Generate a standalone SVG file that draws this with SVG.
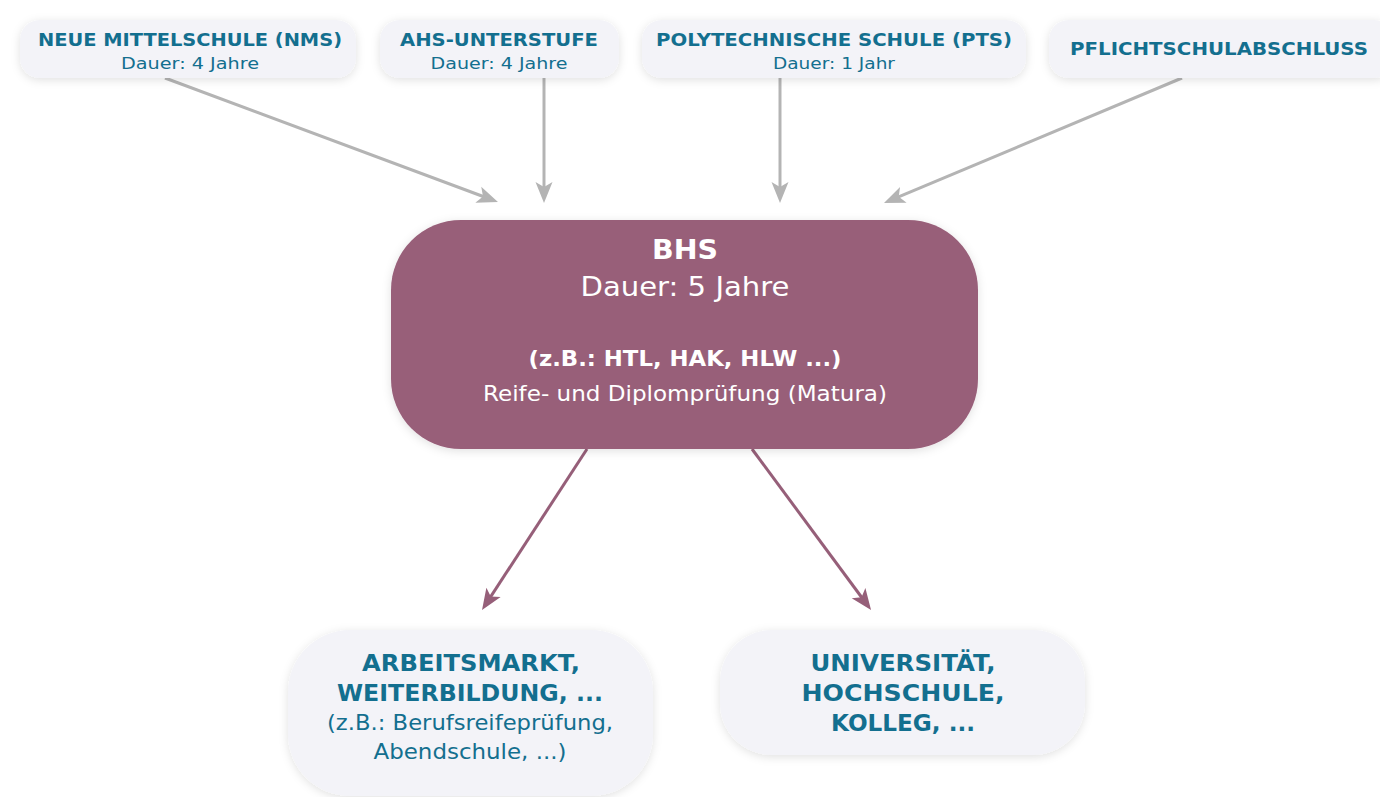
<svg xmlns="http://www.w3.org/2000/svg" width="1380" height="797" viewBox="0 0 1380 797">
<defs>
<style>
.box{fill:#f3f3f8;filter:url(#sh)}
.t{font-family:"DejaVu Sans","Open Sans",sans-serif;fill:#136f8f;text-anchor:middle}
.b{font-weight:bold}
.w{font-family:"DejaVu Sans","Open Sans",sans-serif;fill:#ffffff;text-anchor:middle}
.g{stroke:#b4b4b4;stroke-width:3;fill:none}
.p{stroke:#965f79;stroke-width:3;fill:none}
</style>
<filter id="sh" x="-20%" y="-30%" width="140%" height="160%">
<feDropShadow dx="0" dy="2" stdDeviation="5" flood-color="#000" flood-opacity="0.12"/>
</filter>
<marker id="ag" viewBox="-12 -10 24 20" refX="0" refY="0" markerWidth="24" markerHeight="20" markerUnits="userSpaceOnUse" orient="auto" overflow="visible">
<path d="M10,0 L-11,-8.5 L-6,0 L-11,8.5 Z" fill="#b4b4b4"/>
</marker>
<marker id="ap" viewBox="-12 -10 24 20" refX="0" refY="0" markerWidth="24" markerHeight="20" markerUnits="userSpaceOnUse" orient="auto" overflow="visible">
<path d="M10,0 L-11,-8.5 L-6,0 L-11,8.5 Z" fill="#965f79"/>
</marker>
</defs>
<rect width="1380" height="797" fill="#ffffff"/>
<g id="connectors">
<line class="g" x1="165" y1="78" x2="488.6" y2="198.5" marker-end="url(#ag)"/>
<line class="g" x1="544" y1="78" x2="544" y2="193" marker-end="url(#ag)"/>
<line class="g" x1="780" y1="78" x2="780" y2="193" marker-end="url(#ag)"/>
<line class="g" x1="1182" y1="78" x2="893.2" y2="199.1" marker-end="url(#ag)"/>
<line class="p" x1="587" y1="449" x2="487.5" y2="601.6" marker-end="url(#ap)"/>
<line class="p" x1="752" y1="449" x2="865.1" y2="602" marker-end="url(#ap)"/>
</g>
<g id="nms">
<rect class="box" x="20" y="20" width="336" height="58" rx="20"/>
<text class="t b" x="190" y="46" font-size="17.5" textLength="304" lengthAdjust="spacingAndGlyphs">NEUE MITTELSCHULE (NMS)</text>
<text class="t" x="190" y="69" font-size="15.5" textLength="138" lengthAdjust="spacingAndGlyphs">Dauer: 4 Jahre</text>
</g>
<g id="ahs">
<rect class="box" x="380" y="20" width="239" height="58" rx="20"/>
<text class="t b" x="499" y="46" font-size="17.5" textLength="198" lengthAdjust="spacingAndGlyphs">AHS-UNTERSTUFE</text>
<text class="t" x="499" y="69" font-size="15.5" textLength="137" lengthAdjust="spacingAndGlyphs">Dauer: 4 Jahre</text>
</g>
<g id="pts">
<rect class="box" x="642" y="20" width="384" height="58" rx="20"/>
<text class="t b" x="834" y="46" font-size="17.5" textLength="356" lengthAdjust="spacingAndGlyphs">POLYTECHNISCHE SCHULE (PTS)</text>
<text class="t" x="834" y="69" font-size="15.5" textLength="122" lengthAdjust="spacingAndGlyphs">Dauer: 1 Jahr</text>
</g>
<g id="pflicht">
<rect class="box" x="1049" y="20" width="345" height="58" rx="20"/>
<text class="t b" x="1219" y="55" font-size="17.5" textLength="298" lengthAdjust="spacingAndGlyphs">PFLICHTSCHULABSCHLUSS</text>
</g>
<g id="bhs">
<rect x="391" y="220" width="587" height="229" rx="70" fill="#985f79" filter="url(#sh)"/>
<text class="w b" x="685" y="259" font-size="27" textLength="66" lengthAdjust="spacingAndGlyphs">BHS</text>
<text class="w" x="685" y="296" font-size="27" textLength="209" lengthAdjust="spacingAndGlyphs">Dauer: 5 Jahre</text>
<text class="w b" x="685" y="366" font-size="21" textLength="313" lengthAdjust="spacingAndGlyphs">(z.B.: HTL, HAK, HLW ...)</text>
<text class="w" x="685" y="401" font-size="21" textLength="404" lengthAdjust="spacingAndGlyphs">Reife- und Diplomprüfung (Matura)</text>
</g>
<g id="arbeit">
<rect class="box" x="288" y="630" width="365" height="166" rx="62"/>
<text class="t b" x="471" y="671" font-size="23" textLength="218" lengthAdjust="spacingAndGlyphs">ARBEITSMARKT,</text>
<text class="t b" x="470" y="701" font-size="23" textLength="266" lengthAdjust="spacingAndGlyphs">WEITERBILDUNG, ...</text>
<text class="t" x="470" y="730" font-size="21" textLength="286" lengthAdjust="spacingAndGlyphs">(z.B.: Berufsreifeprüfung,</text>
<text class="t" x="470" y="759" font-size="21" textLength="193" lengthAdjust="spacingAndGlyphs">Abendschule, ...)</text>
</g>
<g id="uni">
<rect class="box" x="720" y="630" width="365" height="125" rx="52"/>
<text class="t b" x="903" y="671" font-size="23" textLength="185" lengthAdjust="spacingAndGlyphs">UNIVERSITÄT,</text>
<text class="t b" x="903" y="701" font-size="23" textLength="203" lengthAdjust="spacingAndGlyphs">HOCHSCHULE,</text>
<text class="t b" x="903" y="731" font-size="23" textLength="144" lengthAdjust="spacingAndGlyphs">KOLLEG, ...</text>
</g>
</svg>
